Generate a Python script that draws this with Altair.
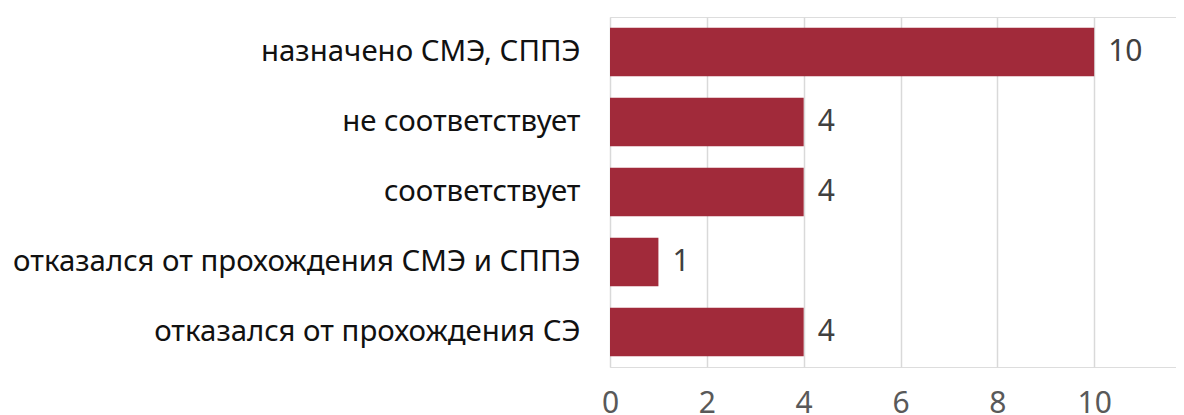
import altair as alt
import pandas as pd

categories = [
    "назначено СМЭ, СППЭ",
    "не соответствует",
    "соответствует",
    "отказался от прохождения СМЭ и СППЭ",
    "отказался от прохождения СЭ",
]
values = [10, 4, 4, 1, 4]
x_ticks = [0, 2, 4, 6, 8, 10, 12]

df = pd.DataFrame({"cat": categories, "val": values})

FONT = "Noto Sans"
FS = 30

base = alt.Chart(df).encode(
    y=alt.Y("cat:N", sort=categories, title=None,
            scale=alt.Scale(paddingInner=0.31, paddingOuter=0.155),
            axis=alt.Axis(domain=False, ticks=False, labelPadding=30,
                          labelFont=FONT, labelFontSize=29.4, labelColor="#111111",
                          labelLimit=1000)),
)

bars = base.mark_bar(color="#A12A3A").encode(
    x=alt.X("val:Q", title=None,
            scale=alt.Scale(domain=[0, 11.69], nice=False),
            axis=alt.Axis(values=x_ticks, domain=False, ticks=False, grid=True,
                          gridColor="#d9d9d9", gridWidth=1.5, labelPadding=21,
                          labelFont=FONT, labelFontSize=FS, labelColor="#595959",
                          labelBound=False, labelOverlap=False, labelFlush=False)),
)

text = base.mark_text(align="left", baseline="middle", dx=14,
                      font=FONT, fontSize=FS, color="#404040").encode(
    x=alt.X("val:Q"),
    text=alt.Text("val:Q"),
)

chart = (bars + text).properties(
    width=566, height=350,
    autosize=alt.AutoSizeParams(type="none"),
    padding={"top": 9, "left": 602, "right": 0, "bottom": 60},
).configure_view(stroke=None).configure(background="white")

chart.save("out.html", embed_options={"renderer": "svg", "actions": False})
